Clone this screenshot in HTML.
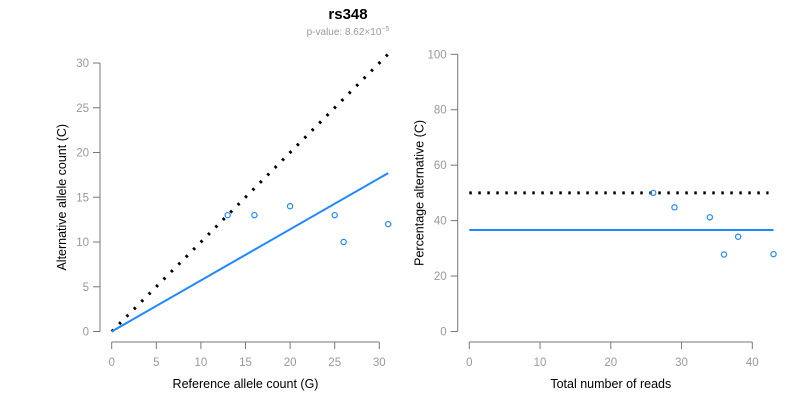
<!DOCTYPE html>
<html><head><meta charset="utf-8"><style>
body{margin:0;background:#fff}
svg{font-family:"Liberation Sans",sans-serif}
</style></head><body>
<svg id="c" width="800" height="400" xmlns="http://www.w3.org/2000/svg">
<text x="348" y="19" text-anchor="middle" font-size="15" font-weight="bold">rs348</text>
<text x="348" y="35" text-anchor="middle" font-size="10" fill="#999">p-value: 8.62×10<tspan dy="-4" font-size="7">−5</tspan></text>
<g id="left"></g>
<g id="right"></g>
</svg>
<script>
const refCounts=[13,16,20,25,26,31];
const altCounts=[13,13,14,13,10,12];
const fitSlope=[0.571];
const leftXTicks=[0,5,10,15,20,25,30];
const leftYTicks=[0,5,10,15,20,25,30];
const totalReads=[26,29,34,36,38,43];
const pctAlt=[50,44.8,41.2,27.8,34.2,27.9];
const fitPct=[36.6];
const nullPct=[50];
const rightXTicks=[0,10,20,30,40];
const rightYTicks=[0,20,40,60,80,100];
const NS="http://www.w3.org/2000/svg";
function mk(p,t,a,txt){const e=document.createElementNS(NS,t);for(const k in a)e.setAttribute(k,a[k]);if(txt!==undefined)e.textContent=txt;p.appendChild(e);return e;}
function panel(g,xs,ys,xt,yt,xl,yl,yAxX,xAxisY){
  const ax=mk(g,'g',{});
  
  
  mk(ax,'line',{x1:xs(xt[0]),x2:xs(xt[xt.length-1]),y1:xAxisY,y2:xAxisY,stroke:'#777'});
  xt.forEach(v=>{mk(ax,'line',{x1:xs(v),x2:xs(v),y1:xAxisY,y2:xAxisY+7,stroke:'#777'});
    const t=mk(ax,'text',{x:xs(v),y:xAxisY+24,'text-anchor':'middle','font-size':11.5,fill:'#999'},v);
    
    });
  const ay=mk(g,'g',{});
  
  
  mk(ay,'line',{x1:yAxX,x2:yAxX,y1:ys(yt[0]),y2:ys(yt[yt.length-1]),stroke:'#777'});
  yt.forEach(v=>{mk(ay,'line',{x1:yAxX-7,x2:yAxX,y1:ys(v),y2:ys(v),stroke:'#777'});
    const t=mk(ay,'text',{x:yAxX-11,y:ys(v)+4,'text-anchor':'end','font-size':11.5,fill:'#999'},v);
    
    });
  const xlab=mk(g,'text',{x:(xs(xt[0])+xs(xt[xt.length-1]))/2,y:388,'text-anchor':'middle','font-size':12.5},xl);
  
  
  const cy=(ys(yt[0])+ys(yt[yt.length-1]))/2;
  const ylab=mk(g,'text',{x:yAxX-34,y:cy,'text-anchor':'middle','font-size':12.5,transform:`rotate(-90 ${yAxX-34} ${cy})`},yl);
  
  
}
const L=document.getElementById('left');
const lx=v=>111.7+v*8.92, ly=v=>331.5-v*8.95;
panel(L,lx,ly,leftXTicks,leftYTicks,'Reference allele count (G)','Alternative allele count (C)',100,342);
const lmax=Math.max(...refCounts);
let e=mk(L,'line',{x1:lx(0),y1:ly(0),x2:lx(lmax),y2:ly(lmax),stroke:'#000','stroke-width':3,'stroke-dasharray':'2.5 8'});


e=mk(L,'line',{x1:lx(0),y1:ly(0),x2:lx(lmax),y2:ly(lmax*fitSlope[0]),stroke:'#1e88ff','stroke-width':2});


refCounts.forEach((r,i)=>{const c=mk(L,'circle',{cx:lx(r),cy:ly(altCounts[i]),r:2.6,fill:'none',stroke:'#1e88ff','stroke-width':1.2});
  
  });
const R=document.getElementById('right');
const rx=v=>469.3+v*7.075, ry=v=>331.5-v*2.772;
panel(R,rx,ry,rightXTicks,rightYTicks,'Total number of reads','Percentage alternative (C)',457.7,342);
e=mk(R,'line',{x1:rx(0),y1:ry(nullPct[0]),x2:rx(42.3),y2:ry(nullPct[0]),stroke:'#000','stroke-width':3,'stroke-dasharray':'2.5 6.5'});


e=mk(R,'line',{x1:rx(0),y1:ry(fitPct[0]),x2:rx(Math.max(...totalReads)),y2:ry(fitPct[0]),stroke:'#1e88ff','stroke-width':2});


totalReads.forEach((n,i)=>{const c=mk(R,'circle',{cx:rx(n),cy:ry(pctAlt[i]),r:2.6,fill:'none',stroke:'#1e88ff','stroke-width':1.2});
  
  });
</script>
</body></html>
